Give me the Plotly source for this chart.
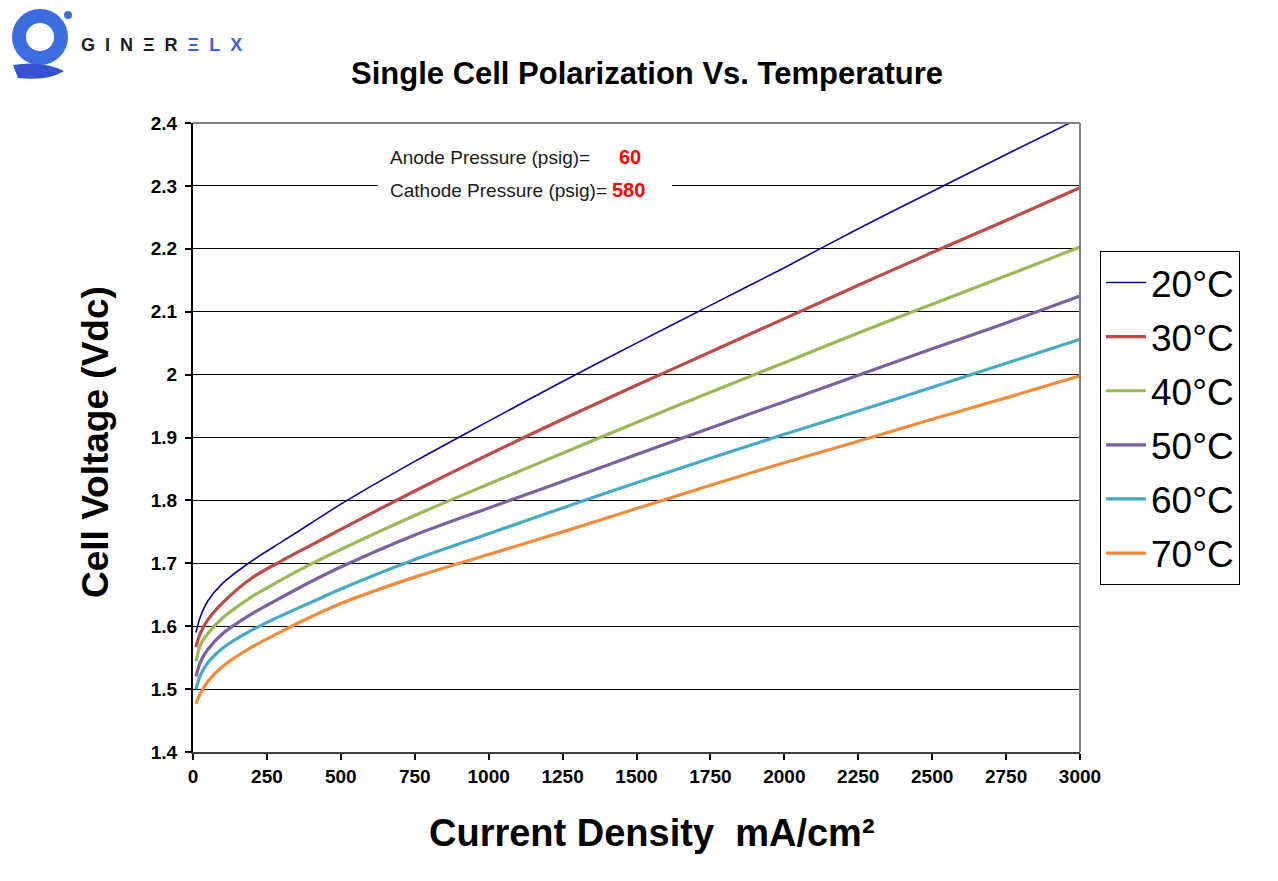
import plotly.graph_objects as go

# Current density (mA/cm2) sample points
current_density = [10, 25, 50, 100, 200, 300, 400, 500, 750, 1000,
                   1250, 1500, 1750, 2000, 2250, 2500, 2750, 3000]

# Cell voltage (Vdc) per temperature
v_20c = [1.590, 1.615, 1.640, 1.668, 1.704, 1.734, 1.764, 1.794, 1.862, 1.926,
         1.989, 2.050, 2.110, 2.170, 2.232, 2.291, 2.350, 2.408]
v_30c = [1.567, 1.589, 1.610, 1.637, 1.677, 1.704, 1.729, 1.754, 1.815, 1.873,
         1.929, 1.983, 2.036, 2.089, 2.142, 2.194, 2.245, 2.297]
v_40c = [1.544, 1.570, 1.588, 1.613, 1.647, 1.674, 1.699, 1.722, 1.776, 1.826,
         1.875, 1.924, 1.972, 2.019, 2.066, 2.112, 2.157, 2.203]
v_50c = [1.520, 1.543, 1.563, 1.588, 1.620, 1.646, 1.671, 1.694, 1.745, 1.788,
         1.830, 1.873, 1.915, 1.957, 1.999, 2.041, 2.082, 2.125]
v_60c = [1.500, 1.522, 1.542, 1.565, 1.594, 1.617, 1.638, 1.659, 1.706, 1.747,
         1.788, 1.828, 1.867, 1.905, 1.942, 1.980, 2.018, 2.056]
v_70c = [1.477, 1.493, 1.512, 1.536, 1.567, 1.592, 1.615, 1.636, 1.678, 1.714,
         1.750, 1.787, 1.824, 1.860, 1.894, 1.929, 1.963, 1.998]

series_names = ['20°C', '30°C', '40°C', '50°C', '60°C', '70°C']
series_values = [v_20c, v_30c, v_40c, v_50c, v_60c, v_70c]
series_colors = ['#0A0A8C', '#BE4B48', '#98B954', '#7D60A0', '#46AAC5', '#F08C3A']
series_widths = [1.6, 3.2, 3.2, 3.2, 3.2, 3.2]

x_ticks = [0, 250, 500, 750, 1000, 1250, 1500, 1750, 2000, 2250, 2500, 2750, 3000]
y_ticks = [1.4, 1.5, 1.6, 1.7, 1.8, 1.9, 2.0, 2.1, 2.2, 2.3, 2.4]

anode_pressure = 60
cathode_pressure = 580

FONT = 'Liberation Sans, Arial, sans-serif'
OFF = 8  # page body margin
W, H = 1278 - OFF, 881 - OFF
L, R, T, B = 193 - OFF, 1080 - OFF, 123 - OFF, 752 - OFF


def px_x(p):
    """Screen pixel column -> paper x."""
    return (p - OFF - L) / (R - L)


def px_y(p):
    """Screen pixel row -> paper y."""
    return (B - (p - OFF)) / (B - T)


fig = go.Figure()
for i, (name, vals, color, width) in enumerate(zip(series_names, series_values,
                                                   series_colors, series_widths)):
    fig.add_trace(go.Scatter(
        x=current_density, y=vals, name=name, mode='lines',
        line=dict(color=color, width=width, shape='spline', smoothing=0.8),
        legendgroup=f'g{i}'
    ))

axis_common = dict(
    zeroline=False, showline=True, linewidth=2,
    ticks='outside', ticklen=6, tickwidth=1.5, tickcolor='black',
    tickfont=dict(family=FONT, size=19, color='black', weight='bold'),
)

fig.update_xaxes(range=[0, 3000], tickvals=x_ticks, linecolor='#404040',
                 showgrid=False, **axis_common)
fig.update_yaxes(range=[1.4, 2.4], tickvals=y_ticks, linecolor='black',
                 showgrid=True, gridcolor='black', gridwidth=1,
                 ticklabelstandoff=4, **axis_common)

shapes = [
    # grey frame on top/right
    dict(type='line', xref='paper', yref='paper', x0=0, x1=1, y0=1, y1=1,
         line=dict(color='#808080', width=2), layer='above'),
    dict(type='line', xref='paper', yref='paper', x0=1, x1=1, y0=0, y1=1,
         line=dict(color='#808080', width=2), layer='above'),
    # white patch behind cathode text
    dict(type='rect', xref='paper', yref='paper',
         x0=px_x(378), x1=px_x(672), y0=px_y(200), y1=px_y(176),
         fillcolor='white', line=dict(width=0), layer='above'),
    # logo
    dict(type='circle', xref='paper', yref='paper',
         x0=px_x(19), x1=px_x(61), y0=px_y(58), y1=px_y(16),
         line=dict(color='#3D6BE0', width=14)),
    dict(type='circle', xref='paper', yref='paper',
         x0=px_x(64), x1=px_x(72), y0=px_y(19), y1=px_y(11),
         fillcolor='#3D6BE0', line=dict(width=0)),
    dict(type='path', xref='paper', yref='paper',
         path=(f'M {px_x(13)},{px_y(65)} Q {px_x(42)},{px_y(60)} {px_x(64)},{px_y(71)} '
               f'Q {px_x(50)},{px_y(81)} {px_x(18)},{px_y(78)} Z'),
         fillcolor='#3553D0', line=dict(width=0)),
]

nb = '\u00a0\u00a0'
annotations = [
    dict(x=px_x(79), y=px_y(45), xref='paper', yref='paper', xanchor='left', yanchor='middle',
         text=(f'<span style="color:#1c1c1c">G{nb}I{nb}N{nb}Ξ{nb}R{nb}</span>'
               f'<span style="color:#3D5FD8">Ξ{nb}L{nb}X</span>'),
         showarrow=False, font=dict(family=FONT, size=18, weight='bold')),
    dict(x=px_x(647), y=px_y(73), xref='paper', yref='paper', xanchor='center', yanchor='middle',
         text='Single Cell Polarization Vs. Temperature', showarrow=False,
         font=dict(family=FONT, size=31, color='black', weight='bold')),
    dict(x=px_x(95), y=px_y(442), xref='paper', yref='paper', xanchor='center', yanchor='middle',
         text='Cell Voltage (Vdc)', textangle=-90, showarrow=False,
         font=dict(family=FONT, size=37, color='black', weight='bold')),
    dict(x=px_x(652), y=px_y(833), xref='paper', yref='paper', xanchor='center', yanchor='middle',
         text='Current Density  mA/cm²', showarrow=False,
         font=dict(family=FONT, size=38, color='black', weight='bold')),
    dict(x=px_x(388), y=px_y(157), xref='paper', yref='paper', xanchor='left', yanchor='middle',
         text='Anode Pressure (psig)=', showarrow=False,
         font=dict(family=FONT, size=19, color='#1a1a1a')),
    dict(x=px_x(617), y=px_y(157), xref='paper', yref='paper', xanchor='left', yanchor='middle',
         text=f'<b>{anode_pressure}</b>', showarrow=False,
         font=dict(family=FONT, size=20, color='#FF0000')),
    dict(x=px_x(388), y=px_y(190), xref='paper', yref='paper', xanchor='left', yanchor='middle',
         text='Cathode Pressure (psig)=', showarrow=False,
         font=dict(family=FONT, size=19, color='#1a1a1a')),
    dict(x=px_x(610), y=px_y(190), xref='paper', yref='paper', xanchor='left', yanchor='middle',
         text=f'<b>{cathode_pressure}</b>', showarrow=False,
         font=dict(family=FONT, size=20, color='#FF0000')),
]

fig.update_layout(
    width=W, height=H,
    margin=dict(l=L, r=W - R, t=T, b=H - B, pad=0),
    paper_bgcolor='white', plot_bgcolor='white',
    font=dict(family=FONT, color='black'),
    shapes=shapes, annotations=annotations,
    showlegend=True,
    legend=dict(
        x=px_x(1100), y=px_y(251), xanchor='left', yanchor='top',
        bgcolor='white', bordercolor='black', borderwidth=1,
        font=dict(family=FONT, size=37, color='black'),
        traceorder='grouped', tracegroupgap=3, itemwidth=40,
    ),
)

fig.write_html('out.html')
